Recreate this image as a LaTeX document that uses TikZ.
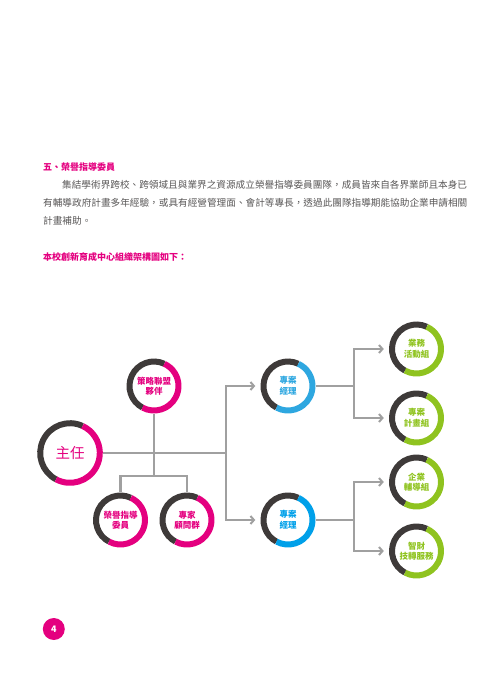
\documentclass[tikz,border=0pt]{standalone}
\usepackage{fontspec}
\setmainfont{Noto Sans CJK TC}
\usepackage{xcolor}
\usepackage{tikz}
\usetikzlibrary{arrows.meta, positioning, calc}
\definecolor{orgpink}{HTML}{E4007F}
\definecolor{orgblue}{HTML}{2EA7E0}
\definecolor{orgbluedeep}{HTML}{00A0E9}
\definecolor{orggreen}{HTML}{8FC31F}
\definecolor{orgdark}{HTML}{3E3A39}
\definecolor{orgline}{HTML}{A0A0A0}
\definecolor{orgtext}{HTML}{595757}

% ring round a unit node: dark part on the upper left, colour part on the lower right
\newcommand{\orgring}[3]{%
  \draw[ringdark] (#1.center) ++(65:#2) arc[start angle=65, end angle=242, radius=#2];
  \draw[ringpart, draw=#3] (#1.center) ++(242:#2) arc[start angle=242, end angle=425, radius=#2];
}

\begin{document}
\begin{tikzpicture}[
  x=1pt, y=1pt,
  unit/.style={circle, minimum size=55pt, inner sep=0pt, align=center,
               font=\fontsize{8.5}{10.5}\selectfont\bfseries},
  ringdark/.style={line width=6pt, draw=orgdark},
  ringpart/.style={line width=6pt},
  link/.style={line width=2.6pt, draw=orgline},
  arr/.style={link, -{Straight Barb[length=3.5pt, width=8pt, line width=2pt]}, shorten >=5pt},
  heading/.style={anchor=west, inner sep=0pt, text=orgpink, font=\fontsize{9}{9}\selectfont\bfseries},
  body/.style={anchor=west, inner sep=0pt, text=orgtext, font=\fontsize{9.64}{9.64}\selectfont}
]
  \useasboundingbox (0,0) rectangle (495,-700);

  % text above the chart
  \node[heading] (sec)   at (43,-167) {五、榮譽指導委員};
  \node[body]    (para1) at (62,-185) {集結學術界跨校、跨領域且與業界之資源成立榮譽指導委員團隊，成員皆來自各界業師且本身已};
  \node[body]    (para2) at (43,-203) {有輔導政府計畫多年經驗，或具有經營管理面、會計等專長，透過此團隊指導期能協助企業申請相關};
  \node[body]    (para3) at (43,-221) {計畫補助。};
  \node[heading] (intro) at (43,-257) {本校創新育成中心組織架構圖如下：};

  % units
  \node[unit, minimum size=66pt, text=orgpink, font=\fontsize{14.5}{14.5}\selectfont] (dir) at (70,-453) {主任};
  \node[unit, text=orgpink]     (ally) at (154,-386)   {策略聯盟\\夥伴};
  \node[unit, text=orgpink]     (hon)  at (120.5,-520) {榮譽指導\\委員};
  \node[unit, text=orgpink]     (exp)  at (187,-520)   {專家\\顧問群};
  \node[unit, text=orgblue]     (pm1)  at (288,-386)   {專案\\經理};
  \node[unit, text=orgbluedeep] (pm2)  at (288,-520)   {專案\\經理};
  \node[unit, text=orggreen]    (g1)   at (416.5,-349) {業務\\活動組};
  \node[unit, text=orggreen]    (g2)   at (416.5,-418) {專案\\計畫組};
  \node[unit, text=orggreen]    (g3)   at (416.5,-482) {企業\\輔導組};
  \node[unit, text=orggreen]    (g4)   at (416.5,-551) {智財\\技轉服務};

  \orgring{dir}{29.8}{orgpink}
  \orgring{ally}{24.5}{orgpink}
  \orgring{hon}{24.5}{orgpink}
  \orgring{exp}{24.5}{orgpink}
  \orgring{pm1}{24.5}{orgblue}
  \orgring{pm2}{24.5}{orgbluedeep}
  \orgring{g1}{24.5}{orggreen}
  \orgring{g2}{24.5}{orggreen}
  \orgring{g3}{24.5}{orggreen}
  \orgring{g4}{24.5}{orggreen}

  % connectors
  \coordinate (jA) at (226,-453);
  \coordinate (jB) at (154,-476);
  \coordinate (jC) at (354,-386);
  \coordinate (jD) at (354,-520);

  \draw[link] (dir.east) -- (jA);
  \draw[link] (ally.south) -- (jB);
  \draw[link] (hon.north) |- (jB) -| (exp.north);
  \draw[arr] (jA) |- (pm1.west);
  \draw[arr] (jA) |- (pm2.west);
  \draw[link] (pm1.east) -- (jC);
  \draw[link] (pm2.east) -- (jD);
  \draw[arr] (jC) |- (g1.west);
  \draw[arr] (jC) |- (g2.west);
  \draw[arr] (jD) |- (g3.west);
  \draw[arr] (jD) |- (g4.west);

  % page number
  \node[circle, fill=orgpink, minimum size=22pt, inner sep=0pt, text=white,
        font=\fontsize{9}{9}\selectfont\bfseries] (page) at (53.8,-629) {4};
\end{tikzpicture}
\end{document}
